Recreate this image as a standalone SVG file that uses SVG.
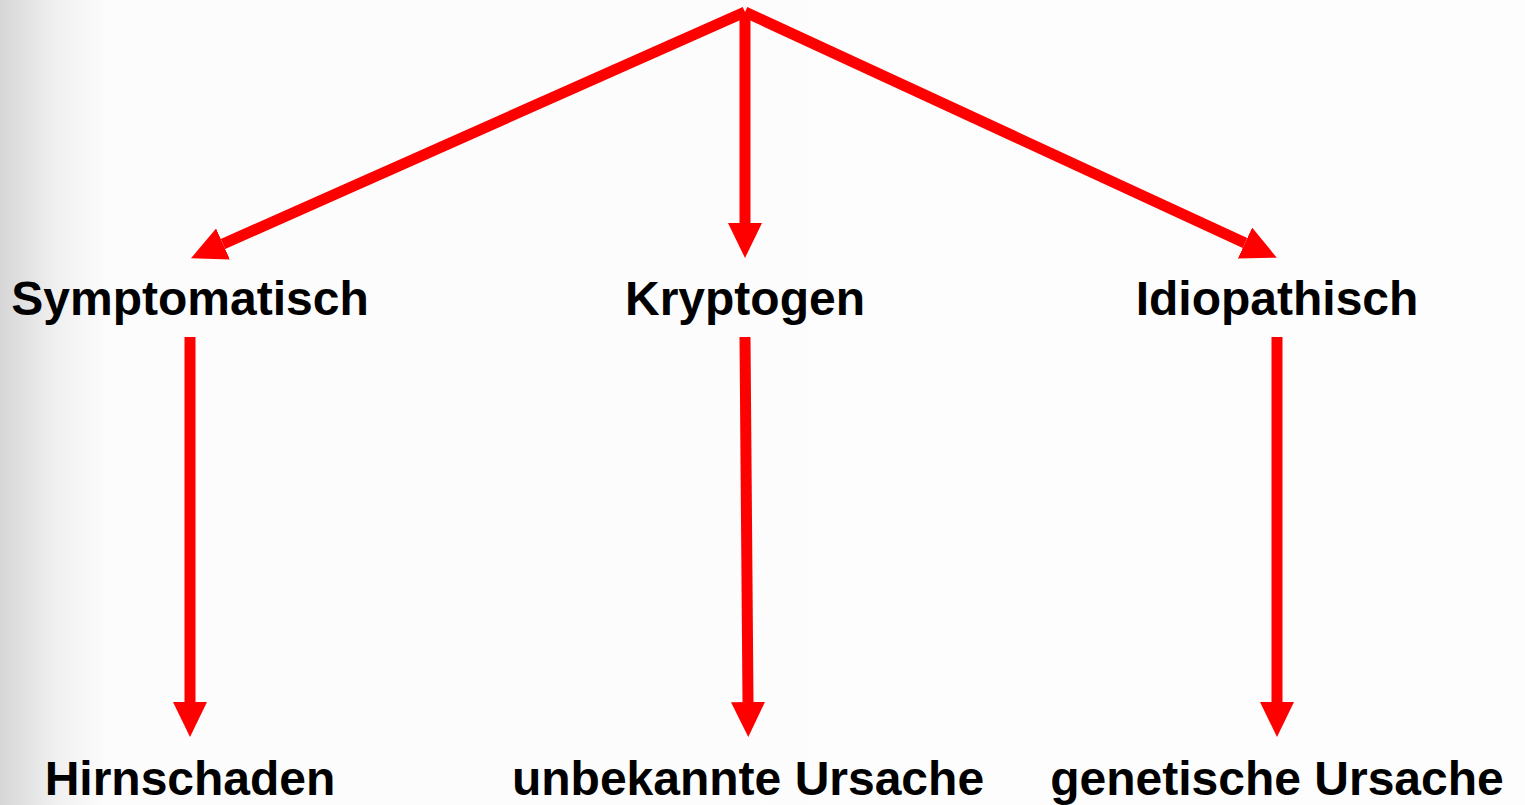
<svg xmlns="http://www.w3.org/2000/svg" width="1525" height="805" viewBox="0 0 1525 805">
<defs>
<linearGradient id="bg" x1="0" y1="0" x2="1" y2="0">
<stop offset="0" stop-color="#d6d6d6"/>
<stop offset="0.035" stop-color="#efefef"/>
<stop offset="0.07" stop-color="#fcfcfc"/>
<stop offset="1" stop-color="#fdfdfd"/>
</linearGradient>
<marker id="ah" markerUnits="userSpaceOnUse" markerWidth="36" markerHeight="34" refX="0" refY="17" orient="auto" viewBox="0 0 36 34">
<path d="M0,0 L35,17 L0,34 z" fill="#ff0000"/>
</marker>
<style>
.lbl{font-family:"Liberation Sans",Arial,sans-serif;font-weight:bold;font-size:48px;fill:#000;text-anchor:middle}
.con{stroke:#ff0000;stroke-width:11;fill:none;marker-end:url(#ah)}
</style>
</defs>
<rect width="1525" height="805" fill="url(#bg)"/>
<g id="connectors">
<line class="con" x1="745" y1="12" x2="223" y2="244"/>
<line class="con" x1="745" y1="12" x2="745" y2="223"/>
<line class="con" x1="745" y1="12" x2="1245" y2="243"/>
<line class="con" x1="190" y1="337" x2="190" y2="702"/>
<line class="con" x1="745" y1="337" x2="748" y2="702"/>
<line class="con" x1="1277" y1="337" x2="1277" y2="702"/>
</g>
<g id="symptomatisch"><text class="lbl" x="190" y="315">Symptomatisch</text></g>
<g id="kryptogen"><text class="lbl" x="745" y="315">Kryptogen</text></g>
<g id="idiopathisch"><text class="lbl" x="1277" y="315">Idiopathisch</text></g>
<g id="hirnschaden"><text class="lbl" x="190" y="795">Hirnschaden</text></g>
<g id="unbekannte"><text class="lbl" x="748" y="795">unbekannte Ursache</text></g>
<g id="genetische"><text class="lbl" x="1277" y="795">genetische Ursache</text></g>
</svg>
